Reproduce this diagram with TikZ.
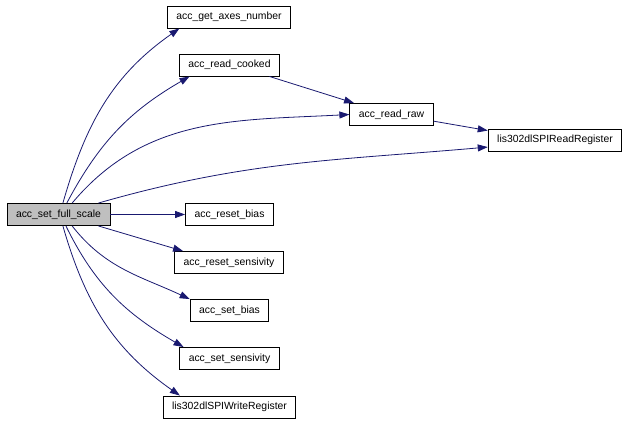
\documentclass[tikz,border=0pt]{standalone}
\usepackage{fontspec}
\setmainfont{Liberation Sans}
\usetikzlibrary{arrows.meta}
\definecolor{edgeblue}{HTML}{191970}
\begin{document}
\begin{tikzpicture}[x=1pt,y=1pt,
    fn/.style={draw=black,fill=white,line width=0.9pt,minimum height=22pt,
      inner xsep=9pt,font=\fontsize{10.4}{12}\selectfont},
    call/.style={draw=edgeblue,line width=0.8pt,
      -{Triangle[length=10pt,width=7pt,fill=edgeblue]}}]
  \useasboundingbox (0,0) rectangle (631,424);
  %\draw[help lines,step=20] (0,0) grid (631,424);

  \node[fn,fill=black!25] (fs) at (58.5,209.5) {acc\_set\_full\_scale};
  \node[fn] (ax) at (229,407)   {acc\_get\_axes\_number};
  \node[fn] (rc) at (229.5,359) {acc\_read\_cooked};
  \node[fn] (rr) at (391.5,309.5) {acc\_read\_raw};
  \node[fn] (sr) at (555,284)   {lis302dlSPIReadRegister};
  \node[fn] (rb) at (229.5,209.5) {acc\_reset\_bias};
  \node[fn] (rs) at (229,161.5) {acc\_reset\_sensivity};
  \node[fn] (sb) at (229.5,113.5) {acc\_set\_bias};
  \node[fn] (ss) at (229.5,65.5) {acc\_set\_sensivity};
  \node[fn] (wr) at (229.5,17)  {lis302dlSPIWriteRegister};

  % calls upwards
  \draw[call] (fs.69) to[out=74,in=215] (ax.193);
  \draw[call] (fs.54) to[out=62,in=210] (rc.196);
  \draw[call] (fs.40) to[out=50,in=183] (rr.west);
  \draw[call] (fs.16) to[out=16,in=185] (sr.186);
  \draw[call] (rc.-16) -- (rr.163);
  \draw[call] (rr.-9) -- (sr.172);

  % calls downwards
  \draw[call] (fs.east) -- (rb.west);
  \draw[call] (fs.-16) -- (rs.166);
  \foreach \a/\t/\o/\i in {-40/sb.164/-52/155, -57/ss.166/-64/150, -69/wr.167/-74/145}
    \draw[call] (fs.\a) to[out=\o,in=\i] (\t);
\end{tikzpicture}
\end{document}
